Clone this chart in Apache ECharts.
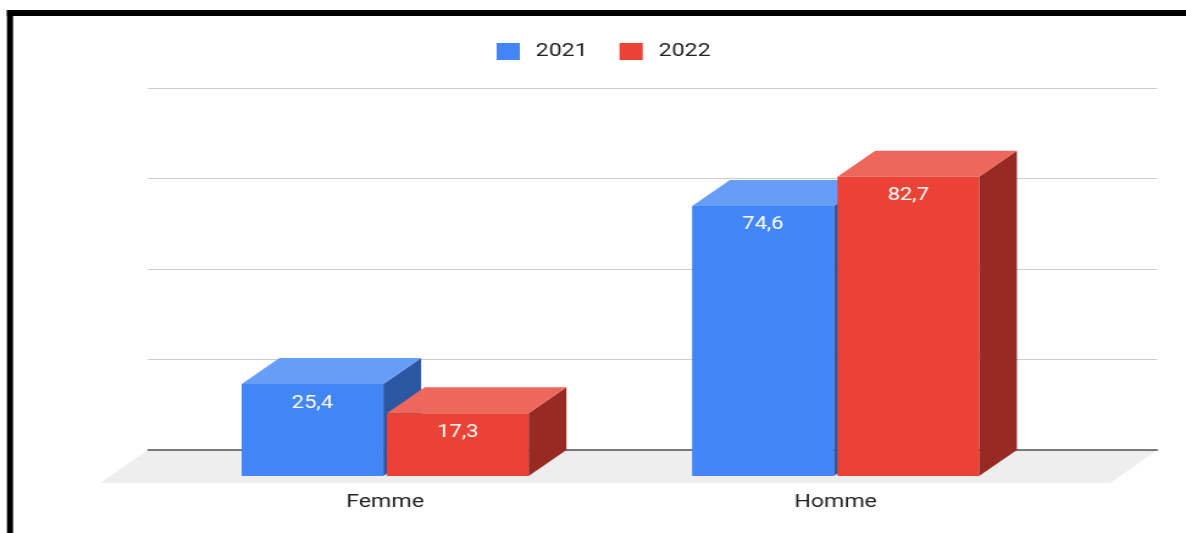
<!DOCTYPE html>
<html>
<head>
<meta charset="utf-8">
<script src="https://cdn.jsdelivr.net/npm/echarts@6/dist/echarts.min.js"></script>
<style>
  html, body { margin: 0; padding: 0; background: #fff; }
  #wrap { width: 1186px; height: 533px; overflow: hidden; }
  /* the reference screenshot is stretched horizontally, so the chart is too */
  #main { width: 972px; height: 533px; transform: scaleX(1.2202); transform-origin: 0 0; }
</style>
</head>
<body>
<div id="wrap"><div id="main"></div></div>
<script>
const categories = ['Femme', 'Homme']
const seriesNames = ['2021', '2022']
const values2021 = [25.4, 74.6]
const values2022 = [17.3, 82.7]

// couleurs : face avant, dessus, côté
const faces = [
  { front: '#4285f4', top: '#669df6', side: '#2c57a3' },
  { front: '#ea4335', top: '#ee675c', side: '#972a23' }
]
const DX = 31 // profondeur des barres
const DY = 26

const chart = echarts.init(document.getElementById('main'))

function bar3d(idx) {
  return function (params, api) {
    const cat = api.value(0)
    const v = api.value(1)
    const base = api.coord([cat, 0])
    const top = api.coord([cat, v])
    const band = api.size([1, 0])[0]
    const bw = band * 0.3145
    const gap = band * 0.008
    const x0 = idx === 0 ? base[0] - gap / 2 - bw : base[0] + gap / 2
    const x1 = x0 + bw
    const yB = base[1] + DY
    const yT = top[1] + DY
    const c = faces[idx]
    return {
      type: 'group',
      children: [
        {
          type: 'polygon',
          shape: { points: [[x1, yT], [x1 + DX, yT - DY], [x1 + DX, yB - DY], [x1, yB]] },
          style: { fill: c.side }
        },
        {
          type: 'polygon',
          shape: { points: [[x0, yT], [x1, yT], [x1 + DX, yT - DY], [x0 + DX, yT - DY]] },
          style: { fill: c.top }
        },
        {
          type: 'rect',
          shape: { x: x0, y: yT, width: bw, height: yB - yT },
          style: { fill: c.front }
        },
        {
          type: 'text',
          style: {
            text: String(v).replace('.', ','),
            x: (x0 + x1) / 2,
            y: yT + 19,
            fill: '#fff',
            fontSize: 18,
            fontFamily: 'Roboto',
            align: 'center',
            verticalAlign: 'middle'
          }
        }
      ]
    }
  }
}

chart.setOption({
  animation: false,
  legend: {
    data: seriesNames,
    left: 402,
    top: 37,
    itemWidth: 19,
    itemHeight: 17,
    itemGap: 26,
    icon: 'rect',
    textStyle: { fontSize: 19, color: '#222', fontFamily: 'Roboto', padding: [0, 0, 0, 8] }
  },
  graphic: [
    // sol gris
    { type: 'polygon', z: -1, shape: { points: [[121.3, 450], [948.4, 450], [909.8, 483], [82, 483]] }, style: { fill: '#eeeeee' } },
    // cadre noir
    { type: 'rect', shape: { x: 5.7, y: 10, width: 972, height: 6 }, style: { fill: '#000' } },
    { type: 'rect', shape: { x: 5.7, y: 10, width: 5, height: 523 }, style: { fill: '#000' } }
  ],
  grid: [
    { left: 121.3, width: 827, top: 88, height: 362 },
    { left: 131, width: 738.4, top: 88, height: 362 }
  ],
  xAxis: [
    {
      gridIndex: 0, type: 'category', data: categories,
      axisLine: { show: true, lineStyle: { color: '#555', width: 1.5 } },
      axisTick: { show: false }, axisLabel: { show: false }
    },
    {
      gridIndex: 1, type: 'category', data: categories,
      axisLine: { show: false }, axisTick: { show: false },
      axisLabel: { margin: 43, fontSize: 19, color: '#222', fontFamily: 'Roboto' }
    }
  ],
  yAxis: [
    {
      gridIndex: 0, type: 'value', min: 0, max: 100, interval: 25,
      axisLine: { show: false }, axisTick: { show: false }, axisLabel: { show: false },
      splitLine: { lineStyle: { color: '#cccccc' } }
    },
    {
      gridIndex: 1, type: 'value', min: 0, max: 100, interval: 25, show: false,
      splitLine: { show: false }
    }
  ],
  series: [
    {
      name: seriesNames[0], type: 'custom', xAxisIndex: 1, yAxisIndex: 1,
      itemStyle: { color: faces[0].front },
      renderItem: bar3d(0),
      data: categories.map((c, i) => [i, values2021[i]])
    },
    {
      name: seriesNames[1], type: 'custom', xAxisIndex: 1, yAxisIndex: 1,
      itemStyle: { color: faces[1].front },
      renderItem: bar3d(1),
      data: categories.map((c, i) => [i, values2022[i]])
    }
  ]
})
window.addEventListener('resize', () => chart.resize())
</script>
</body>
</html>
